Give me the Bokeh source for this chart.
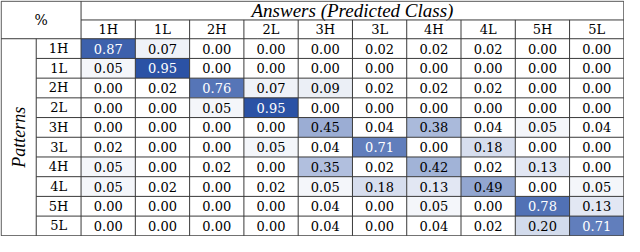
import numpy as np
from bokeh.plotting import figure
from bokeh.models import ColumnDataSource
from bokeh.core.properties import value
from bokeh.embed import file_html
from bokeh.resources import INLINE

classes = ["1H", "1L", "2H", "2L", "3H", "3L", "4H", "4L", "5H", "5L"]
row_1H = [0.87, 0.07, 0.00, 0.00, 0.00, 0.02, 0.02, 0.02, 0.00, 0.00]
row_1L = [0.05, 0.95, 0.00, 0.00, 0.00, 0.00, 0.00, 0.00, 0.00, 0.00]
row_2H = [0.00, 0.02, 0.76, 0.07, 0.09, 0.02, 0.02, 0.02, 0.00, 0.00]
row_2L = [0.00, 0.00, 0.05, 0.95, 0.00, 0.00, 0.00, 0.00, 0.00, 0.00]
row_3H = [0.00, 0.00, 0.00, 0.00, 0.45, 0.04, 0.38, 0.04, 0.05, 0.04]
row_3L = [0.02, 0.00, 0.00, 0.05, 0.04, 0.71, 0.00, 0.18, 0.00, 0.00]
row_4H = [0.05, 0.00, 0.02, 0.00, 0.35, 0.02, 0.42, 0.02, 0.13, 0.00]
row_4L = [0.05, 0.02, 0.00, 0.02, 0.05, 0.18, 0.13, 0.49, 0.00, 0.05]
row_5H = [0.00, 0.00, 0.00, 0.00, 0.04, 0.00, 0.05, 0.00, 0.78, 0.13]
row_5L = [0.00, 0.00, 0.00, 0.00, 0.04, 0.00, 0.04, 0.02, 0.20, 0.71]
rows = [row_1H, row_1L, row_2H, row_2L, row_3H, row_3L, row_4H, row_4L, row_5H, row_5L]

col_title = "Answers (Predicted Class)"
row_title = "Patterns"
corner = "%"

n = len(classes)
RL = 46 / 55.7   # row-label column width (units of a data column)
PW = 36 / 55.7   # "Patterns" column width
HH = 20 / 21     # header row height (units of a data row)

FONT = "DejaVu Serif"
TFONT = "Liberation Serif"
FS = "13px"
LC = "#3a3a3a"

def cell_color(v):
    if v < 0.045:
        return "#ffffff"
    base = np.array([32, 73, 160])
    c = 255 - v * (255 - base)
    return "#%02x%02x%02x" % tuple(int(round(x)) for x in c)

xs, ys, vals, cols, txt, tcol = [], [], [], [], [], []
for i, r in enumerate(rows):
    for j, v in enumerate(r):
        xs.append(j + 0.5)
        ys.append(-(i + 0.5))
        vals.append(v)
        cols.append(cell_color(v))
        txt.append("%.2f" % v)
        tcol.append("white" if v > 0.6 else "black")
src = ColumnDataSource(dict(x=xs, y=ys, v=vals, c=cols, t=txt, tc=tcol))

left = -RL - PW
top = 2 * HH
p = figure(width=624, height=236, output_backend="svg", toolbar_location=None,
           x_range=(left - 0.012, n + 0.012), y_range=(-n - 0.035, top + 0.035),
           min_border=0, x_axis_type=None, y_axis_type=None)
p.grid.visible = False
p.outline_line_color = None
p.background_fill_color = "white"
p.border_fill_color = "white"

p.rect(x="x", y="y", width=1, height=1, fill_color="c", line_color=None, source=src)
p.text(x="x", y="y", text="t", text_color="tc", text_align="center", text_baseline="middle",
       text_font=value(FONT), text_font_size=FS, source=src)

# column headers
p.text(x=[j + 0.5 for j in range(n)], y=[HH / 2] * n, text=classes, text_align="center",
       text_baseline="middle", text_font=value(FONT), text_font_size=FS, text_color="black")
# row labels
p.text(x=[-RL / 2] * n, y=[-(i + 0.5) for i in range(n)], text=classes, text_align="center",
       text_baseline="middle", text_font=value(FONT), text_font_size=FS, text_color="black")
# titles
p.text(x=[n / 2], y=[HH * 1.5], text=[col_title], text_align="center", text_baseline="middle",
       text_font=value(TFONT), text_font_size="19px", text_font_style="italic", text_color="black")
p.text(x=[left + PW / 2], y=[-n / 2], text=[row_title], angle=np.pi / 2, text_align="center",
       text_baseline="middle", text_font=value(TFONT), text_font_size="18px",
       text_font_style="italic", text_color="black")
p.text(x=[left + (RL + PW) / 2], y=[HH], text=[corner], text_align="center", text_baseline="middle",
       text_font=value(FONT), text_font_size="14px", text_color="black")

# grid lines
x0s, y0s, x1s, y1s = [], [], [], []
# outer box
x0s += [left, left, left, n]; y0s += [top, -n, -n, -n]
x1s += [n, n, left, n]; y1s += [top, -n, top, top]
# header separators
x0s += [0, left]; y0s += [HH, 0]; x1s += [n, n]; y1s += [HH, 0]
# vertical: row label column border, data column borders
x0s += [-RL, 0]; y0s += [-n, -n]; x1s += [-RL, 0]; y1s += [0, top]
for j in range(1, n):
    x0s.append(j); y0s.append(-n); x1s.append(j); y1s.append(HH)
# horizontal between data rows
for i in range(1, n):
    x0s.append(-RL); y0s.append(-i); x1s.append(n); y1s.append(-i)
p.segment(x0=x0s, y0=y0s, x1=x1s, y1=y1s, line_color=LC, line_width=1)

open("out.html", "w").write(file_html(p, INLINE))
